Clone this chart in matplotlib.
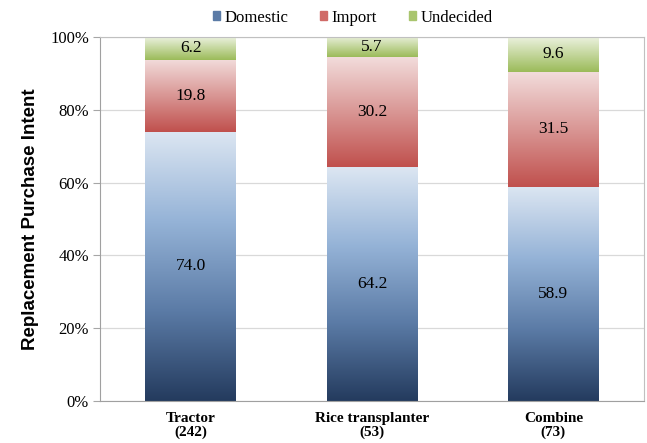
import numpy as np
import matplotlib.pyplot as plt
from matplotlib.colors import LinearSegmentedColormap
from matplotlib.patches import Rectangle

categories = ["Tractor\n(242)", "Rice transplanter\n(53)", "Combine\n(73)"]
series_names = ["Domestic", "Import", "Undecided"]
domestic = [74.0, 64.2, 58.9]
imported = [19.8, 30.2, 31.5]
undecided = [6.2, 5.7, 9.6]

# Gradient stops, bottom to top of each segment
gradients = {
    "Domestic": ["#243b5e", "#5b7ba6", "#95b3d7", "#dce6f2"],
    "Import": ["#c0504d", "#d99694", "#f2dcdb"],
    "Undecided": ["#9bbb59", "#c3d69b", "#ebf1de"],
}
legend_colors = ["#5b7ba6", "#d06a67", "#a9c56e"]

fig = plt.figure(figsize=(6.47, 4.43), dpi=100)
ax = fig.add_axes([0.1546, 0.0948, 0.8408, 0.8217])

width = 0.5
grad = np.linspace(0, 1, 256).reshape(-1, 1)
for name, values, bottoms in [
    ("Domestic", domestic, [0, 0, 0]),
    ("Import", imported, domestic),
    ("Undecided", undecided, [d + i for d, i in zip(domestic, imported)]),
]:
    cmap = LinearSegmentedColormap.from_list(name, gradients[name])
    for i, (v, b) in enumerate(zip(values, bottoms)):
        ax.imshow(grad, extent=[i - width / 2, i + width / 2, b, b + v],
                  origin="lower", aspect="auto", cmap=cmap, zorder=2,
                  interpolation="bilinear")
        ax.text(i, b + v / 2, f"{v:.1f}", ha="center", va="center",
                fontsize=12.5, family="Liberation Serif", zorder=3)

ax.set_xlim(-0.5, 2.5)
ax.set_ylim(0, 100)
ax.set_yticks(np.arange(0, 101, 20))
ax.set_yticklabels([f"{t}%" for t in range(0, 101, 20)],
                   family="Liberation Serif", fontsize=12)
ax.set_xticks(range(len(categories)))
ax.set_xticklabels(categories, family="Liberation Serif", fontweight="bold",
                   fontsize=11, linespacing=1.05)
ax.tick_params(axis="x", length=0, pad=8)
ax.tick_params(axis="y", length=5, color="#a6a6a6", pad=3)
ax.grid(axis="y", color="#d9d9d9", lw=0.9, zorder=0)
ax.set_axisbelow(True)
for side in ["left", "bottom"]:
    ax.spines[side].set_color("#a0a0a0")
for side in ["top", "right"]:
    ax.spines[side].set_color("#c0c0c0")
ax.set_ylabel("Replacement Purchase Intent", family="Liberation Sans",
              fontweight="bold", fontsize=13.5, labelpad=8)

handles = [Rectangle((0, 0), 1, 1, color=c) for c in legend_colors]
fig.legend(handles, series_names, loc="center", bbox_to_anchor=(0.545, 0.96),
           ncol=3, frameon=False, prop={"family": "Liberation Serif", "size": 12},
           handlelength=0.45, handleheight=0.45, handletextpad=0.25,
           columnspacing=1.9)

fig.savefig("out.png", dpi=100)
